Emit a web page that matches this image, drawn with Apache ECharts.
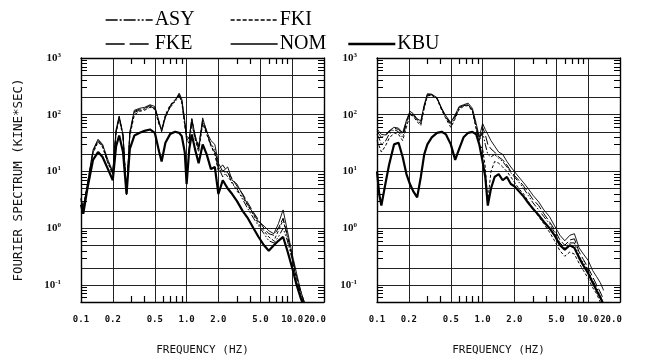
<!DOCTYPE html>
<html>
<head>
<meta charset="utf-8">
<script src="https://cdn.jsdelivr.net/npm/echarts@6/dist/echarts.min.js"></script>
<style>
html, body { margin: 0; padding: 0; background: #fff; }
#main { width: 649px; height: 361px; }
</style>
</head>
<body>
<div id="main"></div>
<script>
// series names / legend
var seriesNames = ['ASY', 'FKI', 'FKE', 'NOM', 'KBU'];

// tick labels and grid
var xLabelValues = [0.1, 0.2, 0.5, 1.0, 2.0, 5.0, 10.0];
var xLastLabel = [20.0];
var xGridValues = [0.2, 0.5, 1.0, 2.0, 5.0, 10.0];
var xMinorValues = [0.3, 0.4, 0.6, 0.7, 0.8, 0.9, 3, 4, 6, 7, 8, 9];
var yLabelPowers = [-1, 0, 1, 2, 3];
var yGridValues = [0.1, 0.2, 0.5, 1, 2, 5, 10, 20, 50, 100, 200, 500];
var yMinorValues = [0.06, 0.07, 0.08, 0.09, 0.3, 0.4, 0.6, 0.7, 0.8, 0.9,
  3, 4, 6, 7, 8, 9, 30, 40, 60, 70, 80, 90, 300, 400, 600, 700, 800, 900];

// left panel
var freqLeft = [0.10, 0.105, 0.115, 0.13, 0.145, 0.16, 0.18, 0.20, 0.215, 0.23, 0.25, 0.27, 0.29, 0.32, 0.36, 0.40, 0.45, 0.50, 0.55, 0.58,
  0.63, 0.70, 0.78, 0.85, 0.90, 0.96, 1.00, 1.06, 1.12, 1.20, 1.30, 1.42, 1.55, 1.70, 1.85, 2.0, 2.2, 2.45, 2.7, 3.0,
  3.4, 3.8, 4.3, 4.8, 5.4, 6.0, 6.7, 7.4, 8.2, 9.0, 10.0, 11.0, 12.0, 13.0, 14.0];
var asyLeft = [3.2, 2.1, 5.5, 22, 34, 28, 14, 9, 50, 88, 42, 3.8, 45, 110, 120, 125, 140, 130, 70, 55,
  95, 135, 170, 215, 170, 70, 40, 35, 75, 40, 25, 75, 48, 30, 25, 12, 8, 10, 6, 5,
  3.2, 2.2, 1.5, 1.1, 0.8, 0.6, 0.55, 0.7, 1.0, 0.6, 0.28, 0.12, 0.07, 0.045, 0.03];
var fkiLeft = [3, 2.3, 6, 21, 33, 27, 14, 9, 48, 85, 40, 4.2, 42, 100, 115, 120, 135, 125, 65, 55,
  100, 150, 185, 225, 165, 65, 38, 30, 70, 38, 22, 70, 45, 28, 20, 10, 11, 8, 6.5, 4.5,
  3.5, 2.5, 1.7, 1.2, 0.9, 0.7, 0.6, 0.9, 1.4, 0.7, 0.3, 0.13, 0.07, 0.045, 0.03];
var fkeLeft = [3.3, 2.1, 6, 23, 36, 29, 15, 9.5, 52, 92, 44, 3.9, 48, 115, 125, 130, 145, 135, 72, 52,
  92, 145, 175, 230, 180, 75, 42, 38, 85, 42, 28, 80, 52, 28, 22, 11, 13, 9.5, 7.5, 5.5,
  4, 2.8, 1.9, 1.4, 1.0, 0.8, 0.75, 1.0, 1.5, 0.75, 0.32, 0.14, 0.08, 0.05, 0.03];
var nomLeft = [3.4, 2.2, 6, 24, 37, 30, 16, 10, 55, 95, 45, 4, 50, 120, 130, 135, 150, 140, 75, 50,
  90, 140, 180, 240, 190, 80, 35, 40, 85, 45, 25, 88, 50, 35, 30, 14, 10, 12, 7, 6,
  3.8, 2.6, 1.8, 1.3, 1.1, 0.9, 0.8, 1.2, 2.1, 0.9, 0.35, 0.16, 0.08, 0.05, 0.03];
var kbuLeft = [2.6, 1.8, 5, 16, 22, 18, 11, 7, 28, 43, 22, 4, 25, 43, 48, 52, 55, 48, 22, 15,
  32, 46, 50, 48, 42, 22, 6, 25, 45, 25, 14, 30, 20, 11, 12, 4, 7, 5, 4, 3,
  2, 1.5, 1.0, 0.7, 0.5, 0.4, 0.5, 0.6, 0.7, 0.4, 0.2, 0.1, 0.06, 0.04, 0.03];

// right panel
var freqRight = [0.10, 0.105, 0.11, 0.12, 0.13, 0.145, 0.16, 0.175, 0.19, 0.205, 0.22, 0.24, 0.26, 0.28, 0.30, 0.33, 0.37, 0.41, 0.45, 0.50,
  0.55, 0.60, 0.66, 0.73, 0.80, 0.87, 0.93, 1.0, 1.06, 1.12, 1.2, 1.3, 1.42, 1.55, 1.7, 1.85, 2.0, 2.2, 2.45, 2.7,
  3.0, 3.4, 3.8, 4.3, 4.8, 5.4, 6.0, 6.7, 7.4, 8.2, 9.0, 10.0, 11.0, 12.0, 13.0, 14.0];
var asyRight = [45, 38, 30, 34, 45, 55, 50, 40, 70, 105, 98, 80, 70, 140, 220, 225, 195, 125, 90, 66,
  90, 130, 145, 150, 120, 60, 35, 50, 30, 20, 18, 20, 17, 15, 12, 9.5, 8, 6.5, 5, 3.8,
  2.8, 2.1, 1.6, 1.2, 0.85, 0.55, 0.45, 0.55, 0.55, 0.32, 0.25, 0.18, 0.12, 0.09, 0.065, 0.045];
var fkiRight = [35, 28, 22, 28, 38, 48, 45, 35, 60, 100, 95, 75, 65, 130, 215, 220, 190, 120, 85, 60,
  85, 125, 140, 145, 115, 55, 30, 25, 12, 3, 10, 15, 14, 12, 10, 8, 6.5, 5, 4, 3,
  2.2, 1.6, 1.2, 0.85, 0.6, 0.4, 0.32, 0.38, 0.35, 0.24, 0.18, 0.13, 0.09, 0.07, 0.05, 0.035];
var fkeRight = [50, 45, 40, 42, 50, 58, 55, 45, 75, 110, 100, 82, 75, 140, 225, 225, 195, 125, 90, 70,
  95, 135, 145, 150, 120, 62, 35, 60, 45, 30, 25, 22, 18, 16, 13, 10, 8.5, 7, 5.5, 4.3,
  3.2, 2.5, 1.8, 1.3, 0.95, 0.62, 0.5, 0.62, 0.65, 0.38, 0.28, 0.2, 0.14, 0.1, 0.075, 0.055];
var nomRight = [56, 50, 45, 44, 52, 60, 58, 48, 80, 115, 105, 85, 78, 150, 235, 230, 200, 130, 95, 73,
  100, 140, 150, 160, 130, 70, 40, 70, 55, 45, 35, 28, 22, 20, 15, 12, 10, 8, 6.3, 5,
  3.8, 2.9, 2.1, 1.6, 1.1, 0.75, 0.6, 0.75, 0.8, 0.45, 0.35, 0.27, 0.18, 0.14, 0.11, 0.08];
var kbuRight = [10, 4, 2.5, 6, 13, 30, 32, 18, 9, 6, 4.5, 3.5, 8, 20, 30, 40, 48, 50, 45, 30,
  16, 25, 40, 48, 50, 45, 30, 15, 8, 2.5, 5, 8, 9, 7, 8, 6, 5.5, 4.5, 3.6, 2.8,
  2.2, 1.7, 1.3, 1.0, 0.75, 0.5, 0.42, 0.5, 0.45, 0.3, 0.22, 0.16, 0.11, 0.08, 0.06, 0.045];

var lg = function (v) { return Math.log10(v); };
var pair = function (fs, vs) {
  return fs.map(function (f, i) { return [lg(f), lg(vs[i])]; });
};

var lineStyles = {
  ASY: { width: 1, type: [7, 2, 1.5, 2, 1.5, 2] },
  FKI: { width: 1, type: [3, 2] },
  FKE: { width: 1, type: [9, 3] },
  NOM: { width: 0.9, type: 'solid' },
  KBU: { width: 2.2, type: 'solid' }
};
var legendDash = {
  ASY: [12, 2, 2, 2, 12, 2, 2, 2, 2, 2],
  FKI: [4, 2],
  FKE: [19, 5],
  NOM: 'solid',
  KBU: 'solid'
};

var yMin = lg(0.05), yMax = 3;
var xMin = -1, xMax = lg(20);

var grids = [
  { left: 81, top: 58, width: 243, height: 247 },
  { left: 377, top: 58, width: 243, height: 247 }
];

var frameLine = { show: true, onZero: false, lineStyle: { color: '#000', width: 1.4 } };
var xLabelStyle = { fontFamily: 'DejaVu Sans Mono', fontSize: 9, fontWeight: 'bold', color: '#111' };
var fmtFreq = function (v) { return Math.pow(10, v).toFixed(1); };

var xAxes = [], yAxes = [], series = [];
grids.forEach(function (g, gi) {
  var xBase = gi * 4, yBase = gi * 3;
  // bottom: labels + minor ticks inside
  xAxes.push({
    gridIndex: gi, type: 'value', min: xMin, max: xMax, position: 'bottom',
    name: 'FREQUENCY (HZ)', nameLocation: 'middle', nameGap: 43,
    nameTextStyle: { fontFamily: 'DejaVu Sans Mono', fontSize: 11, color: '#111' },
    axisLine: frameLine,
    axisTick: { show: true, inside: true, length: 6, customValues: xMinorValues.map(lg), lineStyle: { color: '#000', width: 1.2 } },
    axisLabel: Object.assign({
      customValues: xLabelValues.map(lg), margin: 13, hideOverlap: false, formatter: fmtFreq
    }, xLabelStyle),
    splitLine: { show: false }
  });
  // last label, set against the previous one as in the original plot
  xAxes.push({
    gridIndex: gi, type: 'value', min: xMin, max: xMax, position: 'bottom',
    axisLine: { show: false, onZero: false }, axisTick: { show: false },
    axisLabel: Object.assign({
      customValues: xLastLabel.map(lg), margin: 13,
      formatter: function (v) { return '{p|' + fmtFreq(v) + '}'; },
      rich: { p: Object.assign({ padding: [0, 18, 0, 0] }, xLabelStyle) }
    }, xLabelStyle),
    splitLine: { show: false }
  });
  // top: frame + minor ticks
  xAxes.push({
    gridIndex: gi, type: 'value', min: xMin, max: xMax, position: 'top',
    axisLine: frameLine,
    axisTick: { show: true, inside: true, length: 6, customValues: xMinorValues.map(lg), lineStyle: { color: '#000', width: 1.2 } },
    axisLabel: { show: false }, splitLine: { show: false }
  });
  // grid lines
  xAxes.push({
    gridIndex: gi, type: 'value', min: xMin, max: xMax, position: 'bottom',
    axisLine: { show: false, onZero: false }, axisLabel: { show: false },
    axisTick: { show: false, customValues: xGridValues.map(lg) },
    splitLine: { show: true, lineStyle: { color: '#222', width: 1 } }
  });

  yAxes.push({
    gridIndex: gi, type: 'value', min: yMin, max: yMax, position: 'left',
    name: gi === 0 ? 'FOURIER SPECTRUM (KINE*SEC)' : '', nameLocation: 'middle', nameGap: 56,
    nameTextStyle: { fontFamily: 'DejaVu Sans Mono', fontSize: 12.5, color: '#111' },
    axisLine: frameLine,
    axisTick: { show: true, inside: true, length: 6, customValues: yMinorValues.map(lg), lineStyle: { color: '#000', width: 1 } },
    axisLabel: {
      customValues: yLabelPowers, margin: 20,
      formatter: function (v) { return '{b|10}{s|' + Math.round(v) + '}'; },
      rich: {
        b: { fontFamily: 'Liberation Serif', fontSize: 11, fontWeight: 'bold', color: '#111', lineHeight: 11 },
        s: { fontFamily: 'Liberation Serif', fontSize: 7, fontWeight: 'bold', color: '#111', lineHeight: 7, padding: [0, 0, 6, 0] }
      }
    },
    splitLine: { show: false }
  });
  yAxes.push({
    gridIndex: gi, type: 'value', min: yMin, max: yMax, position: 'right',
    axisLine: frameLine,
    axisTick: { show: true, inside: true, length: 6, customValues: yMinorValues.map(lg), lineStyle: { color: '#000', width: 1 } },
    axisLabel: { show: false }, splitLine: { show: false }
  });
  yAxes.push({
    gridIndex: gi, type: 'value', min: yMin, max: yMax, position: 'left',
    axisLine: { show: false, onZero: false }, axisLabel: { show: false },
    axisTick: { show: false, customValues: yGridValues.map(lg) },
    splitLine: { show: true, lineStyle: { color: '#222', width: 1 } }
  });

  var fs = gi === 0 ? freqLeft : freqRight;
  var sets = gi === 0 ? [asyLeft, fkiLeft, fkeLeft, nomLeft, kbuLeft] : [asyRight, fkiRight, fkeRight, nomRight, kbuRight];
  seriesNames.forEach(function (name, si) {
    series.push({
      name: name, type: 'line', xAxisIndex: xBase, yAxisIndex: yBase,
      data: pair(fs, sets[si]), symbol: 'none', showSymbol: false,
      lineStyle: { color: '#000', width: lineStyles[name].width, type: lineStyles[name].type },
      itemStyle: { color: '#000' },
      emphasis: { disabled: true }, animation: false, z: 3
    });
  });
});

var legendPos = {
  ASY: [105, 10], FKI: [230, 10], FKE: [105, 34], NOM: [230, 34], KBU: [347, 34]
};
var legends = seriesNames.map(function (name) {
  return {
    data: [name], left: legendPos[name][0], top: legendPos[name][1], padding: 0,
    itemWidth: 47, itemHeight: 14, selectedMode: false,
    itemStyle: { color: 'rgba(0,0,0,0)', borderWidth: 0, opacity: 0 },
    lineStyle: { width: name === 'KBU' ? 2.6 : 1.3, type: legendDash[name], color: '#000', opacity: 1 },
    textStyle: { fontFamily: 'Liberation Serif', fontSize: 20, color: '#000', padding: [0, 0, 0, -3] }
  };
});

var chart = echarts.init(document.getElementById('main'), null, { renderer: 'canvas' });
chart.setOption({
  animation: false,
  backgroundColor: '#fff',
  legend: legends,
  grid: grids,
  xAxis: xAxes,
  yAxis: yAxes,
  series: series
});
</script>
</body>
</html>
